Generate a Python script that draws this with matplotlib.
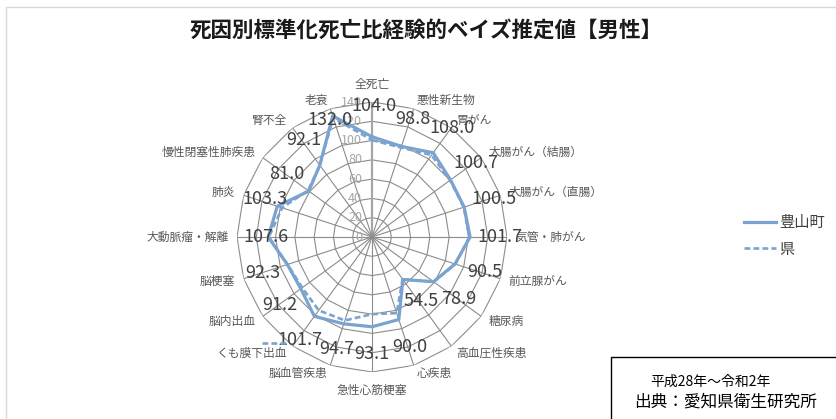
import matplotlib
matplotlib.use('Agg')
import matplotlib.pyplot as plt
import numpy as np
from matplotlib.patches import Rectangle
from matplotlib.lines import Line2D

plt.rcParams['font.family'] = ['Noto Sans CJK JP', 'DejaVu Sans']
NARROW = ['Liberation Sans Narrow', 'Noto Sans CJK JP', 'DejaVu Sans']

title = '死因別標準化死亡比経験的ベイズ推定値【男性】'
categories = ['全死亡', '悪性新生物', '胃がん', '大腸がん（結腸）', '大腸がん（直腸）',
              '気管・肺がん', '前立腺がん', '糖尿病', '高血圧性疾患', '心疾患',
              '急性心筋梗塞', '脳血管疾患', 'くも膜下出血', '脳内出血', '脳梗塞',
              '大動脈瘤・解離', '肺炎', '慢性閉塞性肺疾患', '腎不全', '老衰']
toyoyama = [104.0, 98.8, 108.0, 100.7, 100.5, 101.7, 90.5, 78.9, 54.5, 90.0,
            93.1, 94.7, 101.7, 91.2, 92.3, 107.6, 103.3, 81.0, 92.1, 132.0]
ken = [100.5, 97.5, 105.0, 100.0, 100.0, 101.0, 91.0, 79.0, 54.0, 83.0,
       80.0, 91.0, 94.0, 89.5, 92.0, 107.0, 98.0, 82.0, 92.0, 130.0]
r_ticks = [0, 20, 40, 60, 80, 100, 120, 140]
series_names = ['豊山町', '県']
note_lines = ['平成28年～令和2年', '出典：愛知県衛生研究所']

# value label offsets from each vertex, in pixels
label_offsets = [(2, 31), (11, 27), (19, 25), (25, 17), (30, 8), (30, 0),
                 (30, -8), (25, -17), (18, -21), (11, -27), (0, -27),
                 (-7, -25), (-14, -24), (-21, -16), (-25, -8), (-2, 0),
                 (-12, 7), (-22, 17), (-16, 25), (-3, -4)]

line_color = '#7ba3d0'
grid_color = '#8c8c8c'

W, H = 837, 419
fig = plt.figure(figsize=(W / 100, H / 100), dpi=100)

# chart area frame
fig.add_artist(Rectangle((6 / W, -0.1), 1.2, 1.1 - 7 / H, transform=fig.transFigure,
                         fill=False, ec='#d9d9d9', lw=1))

cx, cy, R = 372, 237, 135
ax = fig.add_axes([(cx - R) / W, (H - cy - R) / H, 2 * R / W, 2 * R / H],
                  projection='polar')
ax.set_theta_zero_location('N')
ax.set_theta_direction(-1)
ax.set_ylim(0, 140)
ax.grid(False)
ax.spines['polar'].set_visible(False)
ax.set_xticks([])
ax.set_yticks([])
ax.patch.set_alpha(0)

n = len(categories)
theta = np.deg2rad(np.arange(n) * 360.0 / n)
theta_c = np.append(theta, theta[0])

# polygon grid
for r in r_ticks[1:]:
    ax.plot(theta_c, [r] * (n + 1), color=grid_color, lw=0.8, zorder=1)
for i, t in enumerate(theta):
    if i == 0:
        ax.plot([t, t], [0, 140], color='#a6a6a6', lw=1.6, zorder=1)
    else:
        ax.plot([t, t], [0, 140], color=grid_color, lw=0.8, zorder=1)

for r in r_ticks:
    ax.annotate(str(r), xy=(0, r), xytext=(-10, 0), textcoords='offset pixels',
                ha='right', va='center', fontsize=9, color='#a6a6a6', family=NARROW)

h1, = ax.plot(theta_c, toyoyama + toyoyama[:1], color=line_color, lw=2.3,
              label=series_names[0], zorder=3)
h2, = ax.plot(theta_c, ken + ken[:1], color=line_color, lw=1.9, ls=(0, (2.2, 1.2)),
              label=series_names[1], zorder=4)

for t, v, (dx, dy) in zip(theta, toyoyama, label_offsets):
    ax.annotate(f'{v:.1f}', xy=(t, v), xytext=(dx, dy), textcoords='offset pixels',
                ha='center', va='center', fontsize=13, color='#404040',
                family=NARROW, zorder=5)

for t, name in zip(theta, categories):
    s, c = np.sin(t), np.cos(t)
    ha = 'left' if s > 0.01 else ('right' if s < -0.01 else 'center')
    if c > 0.99:
        va, rr = 'bottom', 152
    elif c < -0.99:
        va, rr = 'top', 152
    else:
        va, rr = 'center', 149
    ax.text(t, rr, name, ha=ha, va=va, fontsize=8.5, color='#595959')

# leader line beside the くも膜下出血 label
fig.add_artist(Line2D([262 / W, 289 / W], [1 - 343 / H] * 2, color=line_color,
                      lw=1.9, ls=(0, (2.2, 1.2))))

fig.text(426 / W, 1 - 30 / H, title, ha='center', va='center', fontsize=15.5,
         fontweight='bold', color='#1a1a1a')

leg = fig.legend([h1, h2], series_names, loc='center left',
                 bbox_to_anchor=(744 / W, 1 - 236 / H), frameon=False, fontsize=11,
                 handlelength=2.1, handletextpad=0.2, labelspacing=0.6,
                 borderpad=0, borderaxespad=0)
for txt in leg.get_texts():
    txt.set_color('#404040')

# source note box
fig.add_artist(Rectangle((611 / W, -0.1), 0.5, 0.1 + (H - 357) / H,
                         transform=fig.transFigure, fill=False, ec='black', lw=1))
fig.text(710 / W, 1 - 382 / H, note_lines[0], ha='center', va='center',
         fontsize=10, color='black')
fig.text(726 / W, 1 - 402 / H, note_lines[1], ha='center', va='center',
         fontsize=12, color='black')

fig.savefig('out.png', dpi=100)
